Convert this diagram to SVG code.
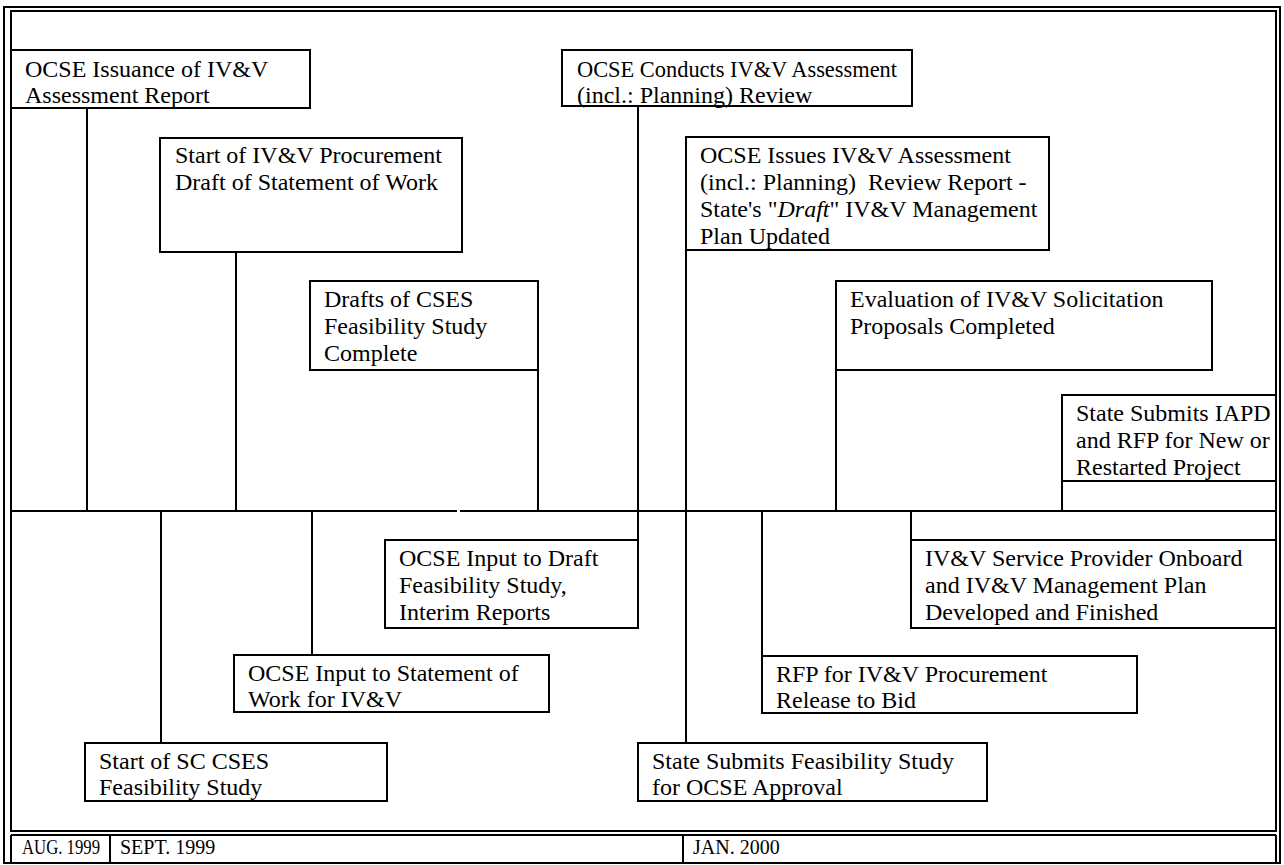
<svg xmlns="http://www.w3.org/2000/svg" width="1284" height="865" viewBox="0 0 1284 865">
<style>
.b{fill:#fff;stroke:#000;stroke-width:2}
.l{stroke:#000;stroke-width:2;fill:none}
text{font-family:"Liberation Serif","Times New Roman",serif;font-size:24px;fill:#000}
.d{font-size:20px}
</style>
<rect x="0" y="0" width="1284" height="865" fill="#fff"/>
<g id="frame" class="l">
<rect x="4" y="7" width="1276" height="856"/>
<rect x="11" y="11" width="1265" height="820"/>
<line x1="11" y1="835" x2="1276" y2="835"/>
<line x1="11" y1="835" x2="11" y2="863"/>
<line x1="1276" y1="835" x2="1276" y2="863"/>
<line x1="110" y1="835" x2="110" y2="863"/>
<line x1="683" y1="835" x2="683" y2="863"/>
</g>
<g id="dates">
<text class="d" x="22" y="854" textLength="78" lengthAdjust="spacingAndGlyphs">AUG. 1999</text>
<text class="d" x="120" y="854">SEPT. 1999</text>
<text class="d" x="693" y="854">JAN. 2000</text>
</g>
<g id="connectors" class="l">
<line x1="11" y1="511" x2="457" y2="511"/>
<line x1="460" y1="511" x2="1276" y2="511"/>
<line x1="87" y1="108" x2="87" y2="511"/>
<line x1="236" y1="252" x2="236" y2="511"/>
<line x1="538" y1="370" x2="538" y2="511"/>
<line x1="638" y1="106" x2="638" y2="540"/>
<line x1="686" y1="250" x2="686" y2="743"/>
<line x1="836" y1="370" x2="836" y2="511"/>
<line x1="1062" y1="481" x2="1062" y2="511"/>
<line x1="161" y1="511" x2="161" y2="743"/>
<line x1="312" y1="511" x2="312" y2="655"/>
<line x1="762" y1="511" x2="762" y2="656"/>
<line x1="911" y1="511" x2="911" y2="540"/>
</g>
<g id="n1"><rect class="b" x="11" y="50" width="299" height="58"/><text x="25" y="77">OCSE Issuance of IV&amp;V</text><text x="25" y="103">Assessment Report</text></g>
<g id="n2"><rect class="b" x="160" y="138" width="302" height="114"/><text x="175" y="163">Start of IV&amp;V Procurement</text><text x="175" y="190">Draft of Statement of Work</text></g>
<g id="n3"><rect class="b" x="310" y="281" width="228" height="89"/><text x="324" y="307">Drafts of CSES</text><text x="324" y="334">Feasibility Study</text><text x="324" y="361">Complete</text></g>
<g id="n4"><rect class="b" x="562" y="50" width="350" height="56"/><text x="577" y="77" textLength="320" lengthAdjust="spacingAndGlyphs">OCSE Conducts IV&amp;V Assessment</text><text x="577" y="103">(incl.: Planning) Review</text></g>
<g id="n5"><rect class="b" x="686" y="137" width="363" height="113"/><text x="700" y="163">OCSE Issues IV&amp;V Assessment</text><text x="700" y="190" xml:space="preserve">(incl.: Planning)  Review Report -</text><text x="700" y="217">State's "<tspan font-style="italic">Draft</tspan>" IV&amp;V Management</text><text x="700" y="244">Plan Updated</text></g>
<g id="n6"><rect class="b" x="836" y="281" width="376" height="89"/><text x="850" y="307">Evaluation of IV&amp;V Solicitation</text><text x="850" y="334">Proposals Completed</text></g>
<g id="n7"><rect class="b" x="1062" y="395" width="214" height="86"/><text x="1076" y="421">State Submits IAPD</text><text x="1076" y="448">and RFP for New or</text><text x="1076" y="475">Restarted Project</text></g>
<g id="n8"><rect class="b" x="911" y="540" width="365" height="88"/><text x="925" y="566">IV&amp;V Service Provider Onboard</text><text x="925" y="593">and IV&amp;V Management Plan</text><text x="925" y="620">Developed and Finished</text></g>
<g id="n9"><rect class="b" x="385" y="540" width="253" height="88"/><text x="399" y="566">OCSE Input to Draft</text><text x="399" y="593">Feasibility Study,</text><text x="399" y="620">Interim Reports</text></g>
<g id="n10"><rect class="b" x="762" y="656" width="375" height="57"/><text x="776" y="682">RFP for IV&amp;V Procurement</text><text x="776" y="708">Release to Bid</text></g>
<g id="n11"><rect class="b" x="234" y="655" width="315" height="57"/><text x="248" y="681">OCSE Input to Statement of</text><text x="248" y="707">Work for IV&amp;V</text></g>
<g id="n12"><rect class="b" x="85" y="743" width="302" height="58"/><text x="99" y="769">Start of SC CSES</text><text x="99" y="795">Feasibility Study</text></g>
<g id="n13"><rect class="b" x="638" y="743" width="349" height="58"/><text x="652" y="769">State Submits Feasibility Study</text><text x="652" y="795">for OCSE Approval</text></g>
</svg>
